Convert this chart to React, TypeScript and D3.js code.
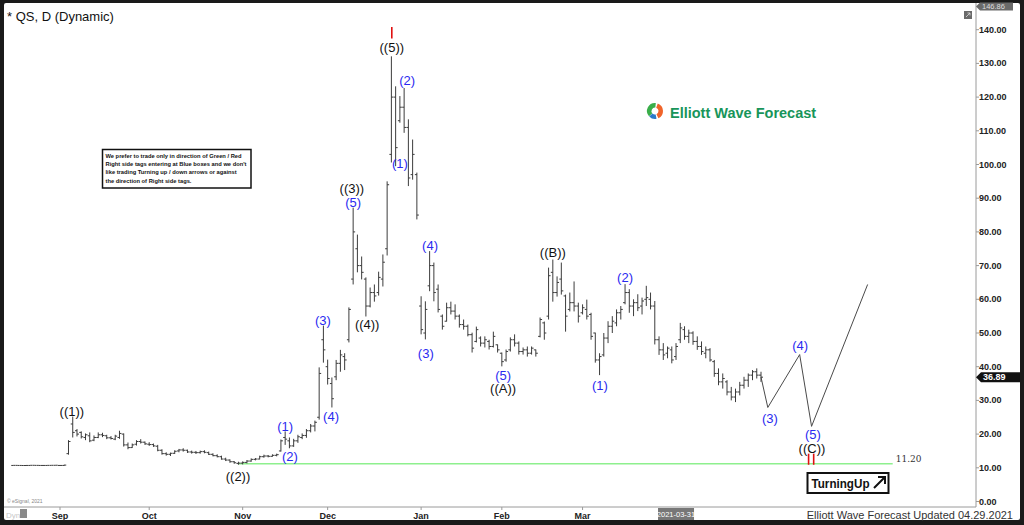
import React from 'react';
import * as d3 from 'd3';

type Bar = [number, number, number, number]; // high, low, open, close

// daily bars, month by month
const aug: Bar[] = [
  [10.78, 10.66, 10.7, 10.72], [10.76, 10.66, 10.72, 10.7], [10.75, 10.64, 10.7, 10.68], [10.74, 10.65, 10.68, 10.7],
  [10.78, 10.66, 10.7, 10.74], [10.8, 10.68, 10.74, 10.72], [10.76, 10.66, 10.72, 10.7], [10.75, 10.64, 10.7, 10.7],
  [10.78, 10.66, 10.7, 10.72], [10.8, 10.68, 10.72, 10.74], [10.82, 10.7, 10.74, 10.76],
];
const sep: Bar[] = [
  [10.8, 10.6, 10.7, 10.7], [10.9, 10.6, 10.7, 10.8], [18.2, 13.9, 14.2, 17.8], [25.2, 19.0, 23.0, 20.5],
  [21.5, 19.3, 21.0, 20.0], [20.8, 18.7, 20.5, 19.2], [20.2, 18.2, 19.0, 19.8], [20.5, 17.6, 19.5, 18.0],
  [19.6, 17.9, 18.2, 19.0], [20.5, 18.8, 19.0, 19.8], [20.4, 19.1, 19.8, 19.6], [19.8, 18.5, 19.5, 18.9],
  [19.4, 18.4, 18.9, 18.7], [19.8, 18.2, 18.5, 19.4], [21.0, 18.6, 19.0, 20.2], [20.2, 16.3, 20.0, 16.8],
  [17.5, 15.5, 16.8, 16.0], [17.2, 15.9, 16.0, 16.8], [18.2, 16.6, 17.0, 17.8], [18.5, 17.2, 17.8, 17.6],
  [17.8, 16.8, 17.6, 17.1],
];
const oct: Bar[] = [
  [17.6, 16.5, 17.0, 16.9], [17.2, 16.2, 16.9, 16.5], [16.8, 14.9, 16.4, 15.2], [15.5, 13.9, 15.2, 14.2],
  [14.6, 13.6, 14.2, 14.0], [14.5, 13.5, 14.0, 14.3], [15.2, 14.1, 14.3, 14.9], [15.6, 14.6, 15.0, 15.3],
  [15.8, 14.8, 15.3, 15.2], [15.4, 14.4, 15.2, 14.7], [15.1, 14.2, 14.7, 14.6], [15.0, 14.1, 14.6, 14.5],
  [15.1, 14.2, 14.5, 14.8], [15.2, 14.3, 14.8, 14.6], [14.8, 13.8, 14.5, 14.0], [14.3, 13.4, 14.0, 13.6],
  [14.0, 13.1, 13.6, 13.3], [13.6, 12.4, 13.3, 12.6], [13.0, 12.0, 12.6, 12.3], [12.5, 11.5, 12.3, 11.8],
  [12.0, 11.2, 11.8, 11.5], [11.8, 10.9, 11.3, 11.4],
];
const nov: Bar[] = [
  [11.9, 11.0, 11.4, 11.6], [12.3, 11.3, 11.6, 12.0], [12.8, 11.8, 12.0, 12.5], [12.9, 12.2, 12.5, 12.6],
  [13.6, 12.5, 12.6, 13.3], [13.9, 13.0, 13.3, 13.5], [13.8, 13.1, 13.5, 13.4], [14.0, 13.3, 13.4, 13.7],
  [14.2, 13.4, 13.7, 13.9], [18.4, 14.8, 15.0, 18.0], [20.8, 16.8, 19.0, 18.5], [19.0, 15.8, 18.0, 16.5],
  [18.6, 16.2, 16.5, 18.0], [19.8, 17.4, 18.0, 19.2], [20.2, 18.5, 19.0, 19.6], [21.5, 18.9, 19.6, 21.0],
  [23.0, 20.5, 21.0, 22.4], [24.0, 20.8, 22.4, 23.5], [39.8, 24.3, 25.0, 38.0], [52.2, 41.2, 48.0, 45.0],
];
const dec: Bar[] = [
  [42.1, 34.7, 40.0, 36.5], [36.8, 27.9, 35.0, 30.5], [42.0, 36.0, 37.0, 41.0], [45.0, 38.5, 41.0, 43.5],
  [44.0, 39.0, 43.0, 42.0], [57.6, 47.2, 48.0, 57.0], [87.2, 64.4, 66.0, 80.0], [79.2, 68.0, 75.0, 70.0],
  [72.7, 65.9, 70.0, 68.0], [66.5, 54.9, 66.0, 58.0], [63.5, 57.6, 58.0, 62.0], [64.4, 59.3, 62.0, 61.0],
  [68.2, 61.1, 62.0, 66.5], [73.3, 63.8, 66.0, 71.0], [95.0, 73.0, 75.0, 94.0], [132.1, 100.6, 103.0, 120.0],
  [123.2, 99.5, 120.0, 105.0], [120.3, 112.4, 113.0, 117.0], [122.7, 109.4, 117.0, 111.0], [113.4, 93.6, 111.0, 96.0],
  [107.4, 95.5, 97.0, 103.0], [97.6, 83.7, 97.0, 85.0],
];
const jan: Bar[] = [
  [60.9, 49.6, 58.0, 51.0], [59.4, 48.1, 50.0, 57.0], [74.3, 62.4, 64.0, 70.0], [70.9, 59.4, 70.0, 62.0],
  [64.4, 56.1, 63.0, 57.0], [55.5, 51.0, 55.0, 52.0], [59.0, 53.4, 53.5, 57.5], [59.3, 55.5, 57.5, 56.5],
  [58.5, 54.0, 56.5, 55.0], [55.5, 51.6, 55.0, 52.5], [54.0, 51.0, 52.5, 52.0], [52.5, 49.0, 52.0, 49.5],
  [50.1, 44.2, 49.5, 45.5], [51.9, 47.2, 47.5, 51.0], [49.0, 46.0, 48.5, 47.0], [49.0, 45.7, 47.0, 48.0],
  [48.0, 45.1, 47.5, 46.0], [50.4, 45.7, 46.0, 49.0], [46.6, 44.2, 46.5, 45.0],
];
const feb: Bar[] = [
  [44.2, 40.1, 44.0, 41.5], [45.1, 41.5, 42.0, 44.5], [48.7, 44.5, 45.0, 48.0], [49.6, 46.0, 48.0, 47.0],
  [47.5, 43.6, 47.0, 44.5], [45.7, 43.6, 44.5, 45.0], [46.0, 43.0, 45.0, 44.0], [46.0, 43.6, 44.0, 45.5],
  [45.1, 43.0, 45.0, 44.0], [54.6, 48.7, 49.0, 54.0], [53.4, 48.0, 53.0, 50.0], [69.4, 54.0, 55.0, 67.0],
  [71.8, 59.3, 68.0, 62.0], [66.8, 60.8, 62.0, 65.0], [70.9, 61.4, 66.0, 62.5], [61.4, 50.4, 61.0, 55.0],
  [62.0, 56.4, 57.0, 59.0], [65.3, 56.4, 59.0, 58.0], [59.0, 53.1, 58.0, 55.0],
];
const mar: Bar[] = [
  [58.5, 55.5, 56.0, 57.5], [59.9, 54.0, 57.0, 55.0], [56.0, 48.0, 55.5, 49.0], [50.1, 41.2, 50.0, 42.0],
  [44.0, 37.5, 42.0, 43.0], [50.0, 43.0, 43.5, 48.5], [53.5, 47.0, 48.5, 52.0], [55.0, 50.0, 52.0, 53.5],
  [57.0, 52.0, 53.0, 56.0], [58.0, 54.0, 56.0, 57.0], [64.5, 58.5, 59.0, 62.0], [63.0, 56.0, 62.0, 58.0],
  [60.0, 55.0, 58.0, 59.0], [61.5, 56.5, 59.0, 57.5], [60.5, 55.5, 58.0, 59.5], [64.0, 58.0, 60.0, 60.5],
  [62.0, 57.0, 60.0, 58.0], [59.5, 46.6, 58.0, 48.0], [49.0, 43.5, 48.0, 45.0], [47.0, 42.0, 45.0, 43.5],
  [46.0, 42.5, 44.0, 45.5], [46.0, 41.0, 45.0, 42.0], [47.0, 42.0, 43.0, 46.0],
];
const apr: Bar[] = [
  [53.0, 47.0, 48.0, 51.5], [52.0, 48.0, 51.0, 49.0], [51.0, 47.0, 49.0, 50.0], [50.5, 46.5, 50.0, 47.5],
  [49.0, 45.0, 47.5, 46.0], [47.5, 43.5, 46.0, 44.5], [46.0, 42.5, 44.0, 45.0], [45.5, 41.5, 45.0, 42.0],
  [42.0, 37.0, 41.5, 38.0], [39.5, 34.5, 38.0, 35.5], [38.0, 33.5, 35.5, 36.5], [36.0, 31.5, 35.5, 32.5],
  [34.0, 30.0, 32.5, 31.0], [33.5, 29.5, 31.0, 32.5], [35.5, 31.5, 32.5, 34.5], [37.0, 33.5, 34.5, 36.0],
  [38.0, 34.0, 36.0, 37.5], [39.0, 36.0, 37.5, 38.5], [39.5, 36.5, 38.5, 37.5], [38.5, 35.5, 37.5, 36.89],
];

const monthLabels = ['Sep', 'Oct', 'Nov', 'Dec', 'Jan', 'Feb', 'Mar'];
const monthIndex = [12, 33, 55, 75, 97, 116, 135];
const cursorIndex = 157;
const cursorLabel = '2021-03-31';

const priceTicks = [0, 10, 20, 30, 40, 50, 60, 70, 80, 90, 100, 110, 120, 130, 140];
const lastPrice = 36.89;
const highPrice = 146.86;
const supportPrice = 11.2;
const supportFrom = 54;
const supportTo = 208;

// projected path after the last bar
const projIndex = [177, 178.6, 186.1, 188.9, 202.1];
const projPrice = [36.89, 27.9, 43.6, 22.3, 64.4];

// wave labels: [text, index, price, blue?]
const waveLabels: [string, number, number, boolean][] = [
  ['((1))', 14.8, 26.6, false],
  ['((2))', 53.9, 7.3, false],
  ['(1)', 65.0, 22.2, true],
  ['(2)', 66.1, 13.5, true],
  ['(3)', 73.9, 53.8, true],
  ['(4)', 75.8, 25.2, true],
  ['((3))', 80.7, 93.0, false],
  ['(5)', 81.0, 88.8, true],
  ['((4))', 84.3, 52.4, false],
  ['((5))', 90.1, 134.8, false],
  ['(2)', 93.7, 125.0, true],
  ['(1)', 92.0, 100.4, true],
  ['(4)', 99.1, 76.1, true],
  ['(3)', 98.1, 44.0, true],
  ['(5)', 116.3, 37.5, true],
  ['((A))', 116.3, 33.4, false],
  ['((B))', 128.0, 74.0, false],
  ['(1)', 139.1, 34.3, true],
  ['(2)', 145.0, 66.6, true],
  ['(3)', 179.1, 24.5, true],
  ['(4)', 186.2, 46.4, true],
  ['(5)', 189.2, 20.0, true],
  ['((C))', 189.0, 15.6, false],
];

// red end-of-wave tags: [index, top price, bottom price]
const redTags: [number, number, number][] = [
  [90.1, 140.8, 137.4],
  [188.2, 14.2, 10.9],
  [189.4, 14.2, 10.9],
];

const noteLines = [
  'We prefer to trade only in direction of Green / Red',
  "Right side tags entering at Blue boxes and we don't",
  'like trading Turning up / down arrows or against',
  'the direction of Right side tags.',
];

const bars: Bar[] = [...aug, ...sep, ...oct, ...nov, ...dec, ...jan, ...feb, ...mar, ...apr];
const firstIndex = 1;

const W = 1024;
const H = 525;
const axisX = 976;
const axisY = 507;

export default function App() {
  const x = d3.scaleLinear().domain([12, 177]).range([60, 761]);
  const y = d3.scaleLinear().domain([0, 140]).range([501.5, 29.7]);
  const font = 'Arial, "Liberation Sans", sans-serif';
  const blue = '#2a2af0';
  const proj = d3.line<number>()
    .x((_, i) => x(projIndex[i]))
    .y(d => y(d))(projPrice) as string;

  const arc = d3.arc();
  const logoX = 655;
  const logoY = 111;

  return (
    <svg width={W} height={H} style={{ display: 'block', fontFamily: font }}>
      <style>{`body{margin:0}`}</style>
      <rect x={0} y={0} width={W} height={H} fill="#1a1a1a" />
      <rect x={4} y={3} width={1016} height={517} fill="#ffffff" rx={2} />

      {/* axes frame */}
      <line x1={axisX} y1={3} x2={axisX} y2={axisY} stroke="#9a9a9a" />
      <line x1={4} y1={axisY} x2={axisX} y2={axisY} stroke="#9a9a9a" />

      {/* title */}
      <text x={7} y={20.5} fontSize={13} fill="#111">* QS, D (Dynamic)</text>

      {/* support line */}
      <line x1={x(supportFrom)} x2={x(supportTo)} y1={y(supportPrice)} y2={y(supportPrice)} stroke="#8ef08e" strokeWidth={1.5} />
      <text x={x(supportTo) + 3} y={y(supportPrice) - 2} fontSize={9} fill="#333" fontFamily='"DejaVu Serif", serif'>
        {supportPrice.toFixed(2)}
      </text>

      {/* OHLC bars */}
      <g stroke="#3c3c3c" strokeWidth={1}>
        {bars.map((b, i) => {
          const cx = x(i + firstIndex);
          const [h, l, o, c] = b;
          const flat = Math.abs(y(l) - y(h)) < 1;
          return (
            <g key={i}>
              {!flat && <line x1={cx} x2={cx} y1={y(h)} y2={y(l)} />}
              <line x1={cx - 2} x2={cx} y1={y(o)} y2={y(o)} />
              <line x1={cx} x2={cx + 2} y1={y(c)} y2={y(c)} />
            </g>
          );
        })}
      </g>

      {/* projection */}
      <path d={proj} fill="none" stroke="#4a4a4a" strokeWidth={1} />

      {/* red tags */}
      {redTags.map(([i, t, b], k) => (
        <line key={k} x1={x(i)} x2={x(i)} y1={y(t)} y2={y(b)} stroke="#e01010" strokeWidth={1.6} />
      ))}

      {/* wave labels */}
      {waveLabels.map(([t, i, p, isBlue], k) => (
        <text key={k} x={x(i)} y={y(p)} fontSize={13} textAnchor="middle" dominantBaseline="central"
          fill={isBlue ? blue : '#111'}>{t}</text>
      ))}

      {/* note box */}
      <rect x={102.5} y={149.5} width={148.5} height={38.5} fill="#fff" stroke="#111" strokeWidth={1.5} />
      {noteLines.map((t, k) => (
        <text key={k} x={105.5} y={158 + k * 8.2} fontSize={5.75} fontWeight="bold" fill="#111">{t}</text>
      ))}

      {/* logo */}
      <g transform={`translate(${logoX},${logoY})`}>
        <path d={arc({ innerRadius: 3.5, outerRadius: 8, startAngle: -2.3, endAngle: 0.1 }) as string} fill="#3aae4a" />
        <path d={arc({ innerRadius: 3.5, outerRadius: 8, startAngle: 0.35, endAngle: 2.7 }) as string} fill="#f0642a" />
        <path d={arc({ innerRadius: 3.5, outerRadius: 8, startAngle: 2.95, endAngle: 3.95 }) as string} fill="#2b79c8" />
      </g>
      <text x={670} y={118} fontSize={14.5} fontWeight="bold" fill="#18955a">Elliott Wave Forecast</text>

      {/* price axis */}
      {priceTicks.map(v => (
        <g key={v}>
          <line x1={axisX} x2={axisX + 3} y1={y(v)} y2={y(v)} stroke="#9a9a9a" />
          <text x={979} y={y(v)} fontSize={9} fontWeight="bold" fill="#222" dominantBaseline="central">
            {v.toFixed(2)}
          </text>
        </g>
      ))}
      <g>
        <path d={`M${axisX},${y(lastPrice)} L${axisX + 5},${y(lastPrice) - 5} H1020 V${y(lastPrice) + 5} H${axisX + 5} Z`} fill="#111" />
        <text x={983} y={y(lastPrice)} fontSize={9} fontWeight="bold" fill="#fff" dominantBaseline="central">
          {lastPrice.toFixed(2)}
        </text>
      </g>
      <g>
        <path d={`M${axisX},${y(highPrice)} L${axisX + 4},${y(highPrice) - 4} H1013 V${y(highPrice) + 4} H${axisX + 4} Z`} fill="#6a6a6a" />
        <text x={982} y={y(highPrice)} fontSize={7.5} fill="#ddd" dominantBaseline="central">{highPrice.toFixed(2)}</text>
      </g>
      <rect x={964} y={11} width={8} height={8} fill="#6a6a6a" />
      <path d="M966,17 L970,13 M967.5,13 H970 V15.5" stroke="#ddd" strokeWidth={0.8} fill="none" />

      {/* time axis */}
      {monthLabels.map((m, k) => (
        <g key={m}>
          <line x1={x(monthIndex[k])} x2={x(monthIndex[k])} y1={axisY} y2={axisY + 3} stroke="#9a9a9a" />
          <text x={x(monthIndex[k])} y={515.5} fontSize={9} fontWeight="bold" fill="#222" textAnchor="middle" dominantBaseline="central">{m}</text>
        </g>
      ))}
      <rect x={x(cursorIndex) - 18} y={508} width={36} height={12} fill="#777" />
      <text x={x(cursorIndex)} y={514.5} fontSize={7.5} fill="#fff" textAnchor="middle" dominantBaseline="central">{cursorLabel}</text>

      <text x={7} y={503} fontSize={5} fill="#888">© eSignal, 2021</text>
      <text x={6} y={518} fontSize={8} fill="#c8c8c8">Dyn</text>
      <rect x={20} y={509} width={7} height={9} fill="#8a8a8a" />

      {/* turning up tag */}
      <rect x={807.5} y={473} width={81} height={20} fill="#fff" stroke="#111" strokeWidth={2} />
      <text x={811.5} y={483.5} fontSize={13} fontWeight="bold" fill="#111" dominantBaseline="central"
        textLength={58} lengthAdjust="spacingAndGlyphs">TurningUp</text>
      <path d="M874,488 L885,477 M878,477 H885 V484" stroke="#111" strokeWidth={2} fill="none" />

      <text x={1013} y={519} fontSize={11} fill="#333" textAnchor="end">Elliott Wave Forecast Updated 04.29.2021</text>
    </svg>
  );
}
